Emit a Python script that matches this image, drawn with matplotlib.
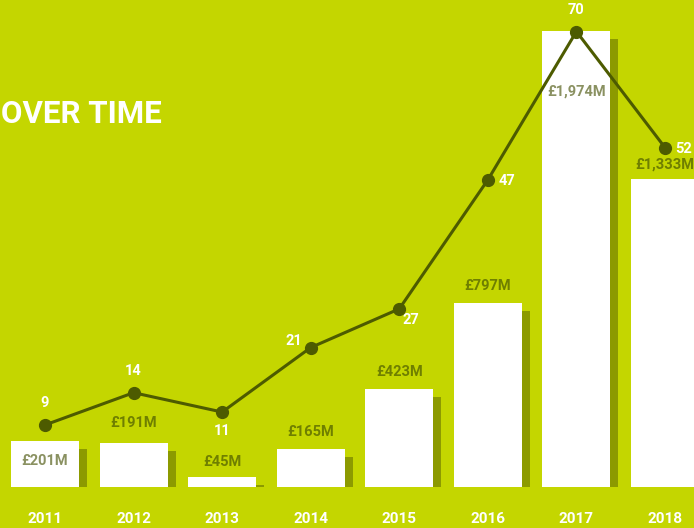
import matplotlib
matplotlib.use("Agg")
import matplotlib.pyplot as plt
import numpy as np

years = ['2011', '2012', '2013', '2014', '2015', '2016', '2017', '2018']
amounts = [201, 191, 45, 165, 423, 797, 1974, 1333]   # £M
amount_labels = ['£201M', '£191M', '£45M', '£165M', '£423M', '£797M', '£1,974M', '£1,333M']
deals = [9, 14, 11, 21, 27, 47, 70, 52]

green = '#c4d600'
shadow = '#8c9a00'
dark = '#4d5b00'
label_on_green = '#6f7f00'
label_on_white = '#8a9161'

plt.rcParams['font.family'] = ['Roboto', 'DejaVu Sans']
plt.rcParams['font.weight'] = 'bold'

W, H = 694, 528
fig = plt.figure(figsize=(W / 100, H / 100), dpi=100)
fig.patch.set_facecolor(green)

# bars, axis tuned so 1 unit on x = one slot of ~88.6px, baseline 41px from bottom
ax = fig.add_axes([0, 0, 1, 1])
ax.set_facecolor('none')
slot = 88.57
px_per_m = 0.2309
ax.set_xlim(-45 / slot, (W - 45) / slot)
ax.set_ylim(-41 / px_per_m, (H - 41) / px_per_m)
ax.axis('off')

x = np.arange(len(years))
bw = 68 / slot
dx = 8 / slot
dy = 8 / px_per_m
shadow_h = [max(a - dy, 0) for a in amounts]
ax.bar(x + dx, shadow_h, width=bw, color=shadow, zorder=1)
ax.bar(x, amounts, width=bw, color='white', zorder=2)

# value labels: offset in px from bar top (negative = inside the bar)
offsets = [-20, 20, 15, 17, 17, 17, -60, 15]
for i, a in enumerate(amounts):
    inside = offsets[i] < 0
    ax.annotate(amount_labels[i], (x[i], a), xytext=(0, offsets[i] * 0.72),
                textcoords='offset points', ha='center', va='center',
                fontsize=10.5, fontweight='bold',
                color=label_on_white if inside else label_on_green, zorder=5)

for i, yr in enumerate(years):
    ax.text(x[i], -32 / px_per_m, yr, ha='center', va='center', fontsize=11,
            fontweight='bold', color='white')

# deal count line on its own scale
ax2 = fig.add_axes([0, 0, 1, 1], sharex=ax)
ax2.set_facecolor('none')
px_per_deal = 6.45
ax2.set_ylim(-45 / px_per_deal, (H - 45) / px_per_deal)
ax2.axis('off')
ax2.plot(x, deals, color=dark, lw=2.2, marker='o', markersize=8.5, zorder=4)

deal_off = [(0, 22), (0, 22), (0, -19), (-17, 7), (12, -11), (19, -1), (0, 22), (19, -1)]
for i, d in enumerate(deals):
    ox, oy = deal_off[i]
    ax2.annotate(str(d), (x[i], d), xytext=(ox * 0.72, oy * 0.72),
                 textcoords='offset points', ha='center', va='center',
                 fontsize=10.5, fontweight='bold', color='white')

fig.text(1 / W, 1 - 114 / H, 'OVER TIME', ha='left', va='center',
         fontsize=22.5, fontweight='bold', color='white')

fig.savefig('out.png', dpi=100, facecolor=green)
